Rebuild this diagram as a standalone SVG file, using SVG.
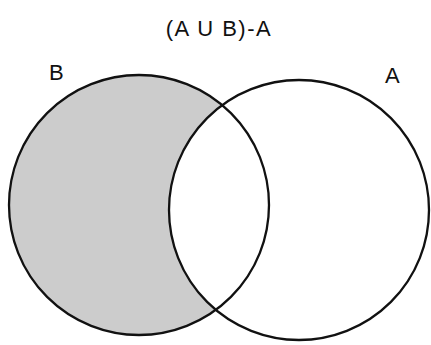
<svg xmlns="http://www.w3.org/2000/svg" width="431" height="345" viewBox="0 0 431 345">
<style>
.t{font-family:"Liberation Sans",Arial,sans-serif;font-size:22px;fill:#111}
.c{fill:none;stroke:#111;stroke-width:2.3}
</style>
<rect width="431" height="345" fill="#fff"/>
<g id="title"><text class="t" x="219" y="36" text-anchor="middle" font-size="23" letter-spacing="1.5">(A U B)-A</text></g>
<g id="setB">
<circle cx="139" cy="205" r="130" fill="#cccccc"/>
</g>
<g id="setA">
<circle cx="299" cy="210" r="130" fill="#fff"/>
</g>
<g id="outlines">
<circle class="c" cx="139" cy="205" r="130"/>
<circle class="c" cx="299" cy="210" r="130"/>
</g>
<g id="labelB"><text class="t" x="49" y="80">B</text></g>
<g id="labelA"><text class="t" x="385" y="83">A</text></g>
</svg>
